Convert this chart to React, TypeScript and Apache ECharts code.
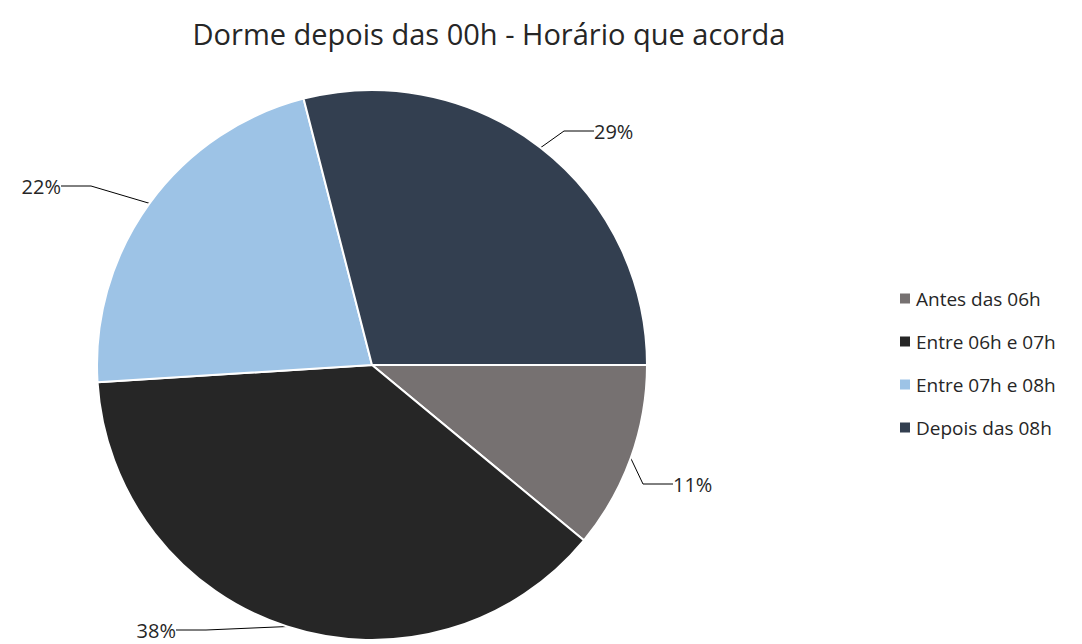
import React, { useEffect, useRef } from "react";
import * as echarts from "echarts";

const categories = ["Antes das 06h", "Entre 06h e 07h", "Entre 07h e 08h", "Depois das 08h"];
const values = [11, 38, 22, 29];
const colors = ["#767171", "#262626", "#9DC3E6", "#333F50"];
const titleText = "Dorme depois das 00h - Horário que acorda";

// label anchor positions (layout only)
const labelPos = [
  { x: 673, y: 484, align: "left" },
  { x: 176, y: 630, align: "right" },
  { x: 61, y: 186, align: "right" },
  { x: 594, y: 131, align: "left" },
];

export default function App() {
  const ref = useRef<HTMLDivElement>(null);
  useEffect(() => {
    document.body.style.margin = "0";
    const chart = echarts.init(ref.current!, null, { renderer: "svg" });
    chart.setOption({
      animation: false,
      backgroundColor: "#ffffff",
      title: {
        text: titleText,
        left: 484,
        top: 14,
        textAlign: "center",
        textStyle: { fontFamily: "Open Sans", fontSize: 29, fontWeight: "normal", color: "#262626" },
      },
      legend: {
        orient: "vertical",
        left: 893,
        top: 284,
        itemWidth: 12,
        itemHeight: 12,
        itemGap: 24,
        icon: "rect",
        data: categories,
        textStyle: { fontFamily: "Open Sans", fontSize: 19, color: "#262626" },
      },
      series: [
        {
          type: "pie",
          center: [372, 365],
          radius: 275,
          startAngle: 0,
          clockwise: true,
          data: categories.map((c, i) => ({ name: c, value: values[i], itemStyle: { color: colors[i] } })),
          itemStyle: { borderColor: "#ffffff", borderWidth: 2 },
          label: {
            show: true,
            position: "outside",
            formatter: (p: any) => p.value + "%",
            fontFamily: "Open Sans",
            fontSize: 20,
            color: "#262626",
          },
          labelLine: { show: true, length: 15, length2: 30, lineStyle: { color: "#000000", width: 1 } },
          labelLayout: (params: any) => {
            const p = labelPos[params.dataIndex];
            return { x: p.x, y: p.y, align: p.align, verticalAlign: "middle" };
          },
        },
      ],
    });
    return () => chart.dispose();
  }, []);
  return <div ref={ref} style={{ width: 1082, height: 644 }} />;
}
